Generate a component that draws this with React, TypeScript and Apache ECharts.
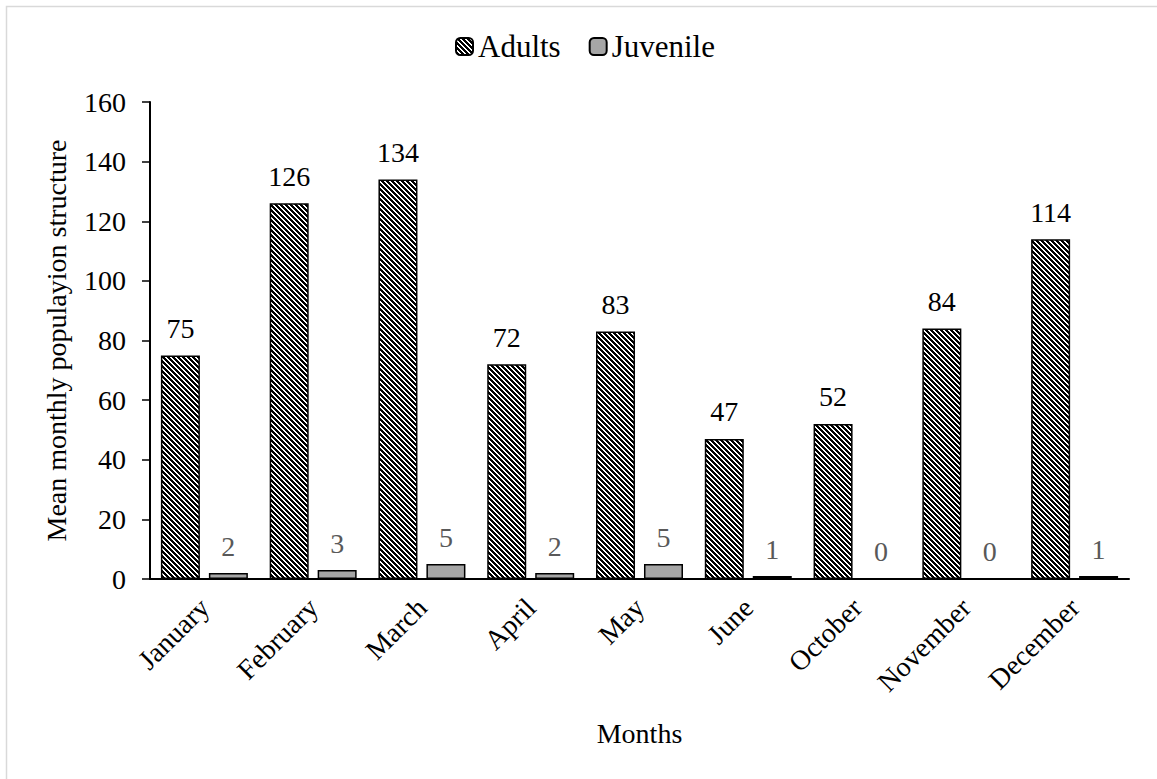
import React, { useEffect, useRef } from "react";
import * as echarts from "echarts";

const months = ["January", "February", "March", "April", "May", "June", "October", "November", "December"];
const adults = [75, 126, 134, 72, 83, 47, 52, 84, 114];
const juvenile = [2, 3, 5, 2, 5, 1, 0, 0, 1];
const yTicks = { min: 0, max: 160, interval: 20 };

const FONT = "'Liberation Serif', 'Times New Roman', serif";
const FS = 28;

// Black/white diagonal hatch ("\" direction) used for the Adults bars
function makeHatch(): HTMLCanvasElement {
  const c = document.createElement("canvas");
  const n = 5;
  c.width = n;
  c.height = n;
  const ctx = c.getContext("2d")!;
  ctx.fillStyle = "#ffffff";
  ctx.fillRect(0, 0, n, n);
  ctx.fillStyle = "#000000";
  for (let y = 0; y < n; y++) {
    for (let x = 0; x < n; x++) {
      const d = (((x - y) % n) + n) % n;
      if (d <= 2) ctx.fillRect(x, y, 1, 1);
    }
  }
  return c;
}

export default function App() {
  const ref = useRef<HTMLDivElement>(null);

  useEffect(() => {
    document.body.style.margin = "0";
    const chart = echarts.init(ref.current!, null, { renderer: "svg" });
    const hatch = makeHatch();

    chart.setOption({
      animation: false,
      backgroundColor: "#ffffff",
      textStyle: { fontFamily: FONT },
      graphic: [
        {
          type: "rect",
          shape: { x: 6.5, y: 6.5, width: 1160, height: 780 },
          style: { fill: "none", stroke: "#d9d9d9", lineWidth: 1.5 },
          silent: true,
        },
      ],
      legend: {
        top: 26,
        left: 450,
        itemWidth: 17,
        itemHeight: 17,
        itemGap: 28,
        textStyle: { fontFamily: FONT, fontSize: 31, color: "#000" },
        data: ["Adults", "Juvenile"],
      },
      grid: { left: 150, right: 28, top: 102, bottom: 200 },
      xAxis: {
        type: "category",
        data: months,
        name: "Months",
        nameLocation: "middle",
        nameGap: 140,
        nameTextStyle: { fontFamily: FONT, fontSize: FS, color: "#000" },
        axisLine: { lineStyle: { color: "#000", width: 2 } },
        axisTick: { show: false },
        axisLabel: { rotate: 45, fontFamily: FONT, fontSize: FS, color: "#000", margin: 24 },
      },
      yAxis: {
        type: "value",
        min: yTicks.min,
        max: yTicks.max,
        interval: yTicks.interval,
        name: "Mean monthly populayion structure",
        nameLocation: "middle",
        nameGap: 80,
        nameTextStyle: { fontFamily: FONT, fontSize: FS, color: "#000" },
        splitLine: { show: false },
        axisLine: { show: true, lineStyle: { color: "#000", width: 2 } },
        axisTick: { show: true, length: 8, lineStyle: { color: "#000", width: 1.5 } },
        axisLabel: { fontFamily: FONT, fontSize: FS, color: "#000", margin: 24 },
      },
      series: [
        {
          name: "Adults",
          type: "bar",
          data: adults,
          barWidth: 39,
          barGap: "23%",
          itemStyle: {
            color: { image: hatch, repeat: "repeat" },
            borderColor: "#000",
            borderWidth: 1.5,
          },
          label: {
            show: true,
            position: "top",
            distance: 13,
            fontFamily: FONT,
            fontSize: FS,
            color: "#000",
          },
        },
        {
          name: "Juvenile",
          type: "bar",
          data: juvenile,
          barWidth: 39,
          itemStyle: { color: "#a6a6a6", borderColor: "#000", borderWidth: 1.5 },
          label: {
            show: true,
            position: "top",
            distance: 13,
            fontFamily: FONT,
            fontSize: FS,
            color: "#595959",
          },
        },
      ],
    });

    return () => chart.dispose();
  }, []);

  return <div ref={ref} style={{ width: 1157, height: 779 }} />;
}
